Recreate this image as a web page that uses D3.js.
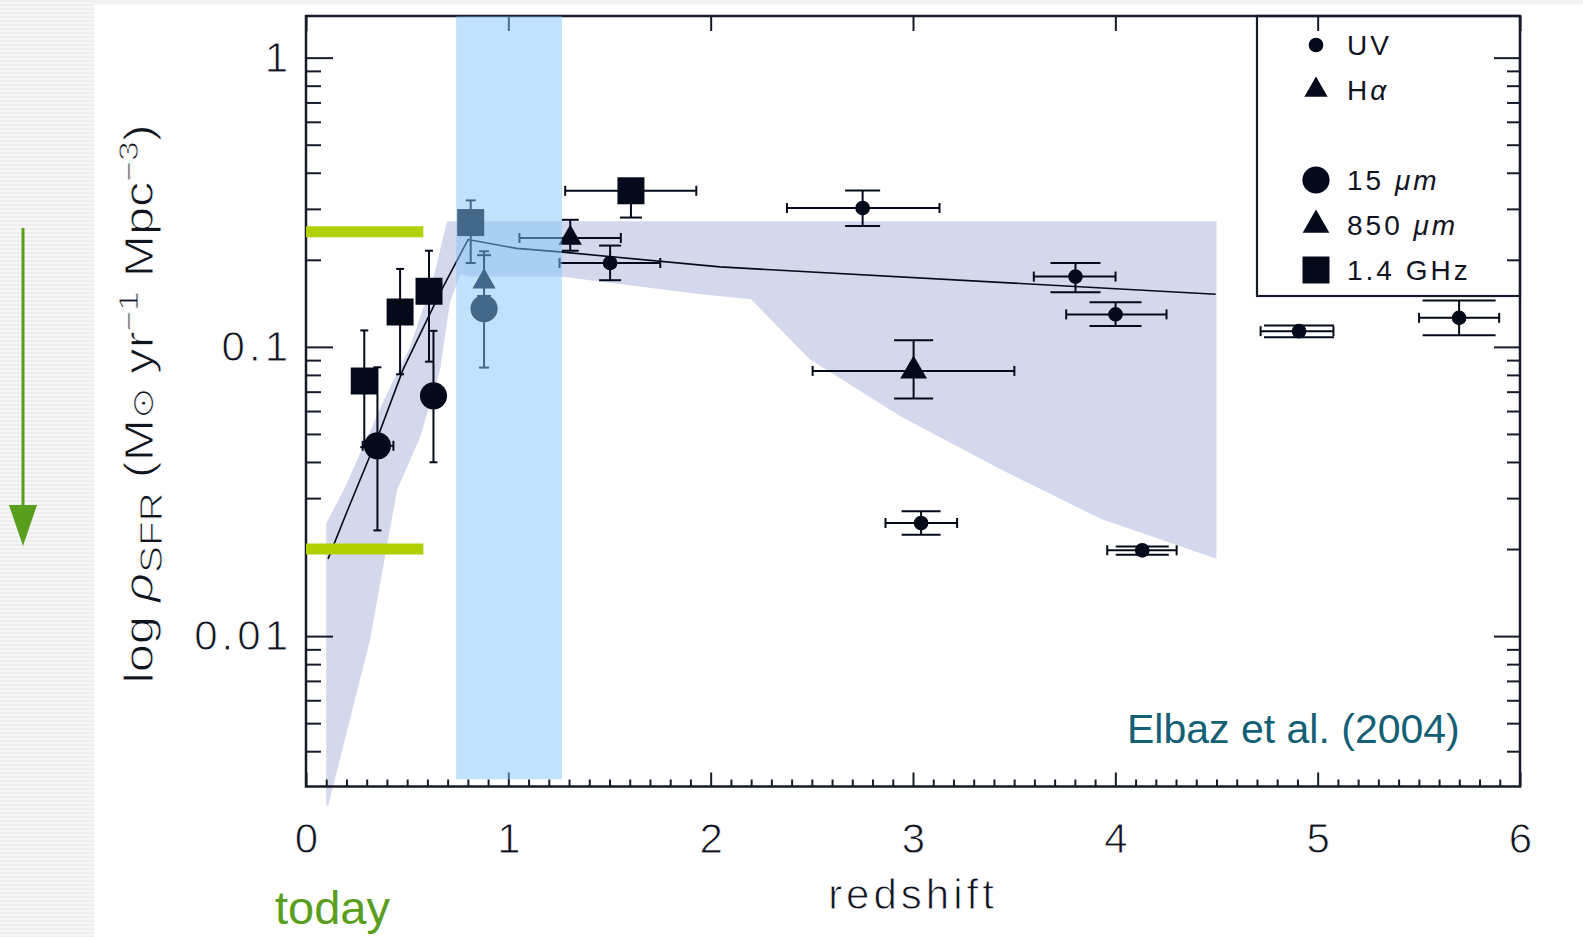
<!DOCTYPE html>
<html lang="en">
<head>
<meta charset="UTF-8" />
<title>Cosmic star formation history - Elbaz et al. (2004)</title>
<script src="https://d3js.org/d3.v7.min.js"></script>
<style>
  body { margin: 0; background: #fff; }
  svg { display: block; }
  .hershey {
    font-family: "Liberation Sans", Arial, sans-serif;
    fill: #10141f;
    stroke: #fff;
    stroke-width: 0.9px;
    paint-order: fill;
  }
  .legend-text {
    font-family: "Liberation Sans", Arial, sans-serif;
    fill: #10141f;
  }
  .tick line { stroke: #161b2a; stroke-width: 2px; }
</style>
</head>
<body>
<div id="chart"></div>
<script>
// Points: [z, rho, zLow, zHigh, rhoLow, rhoHigh]
const uvPoints = [
  [1.503, 0.195, 1.253, 1.751, 0.170, 0.224],
  [2.751, 0.302, 2.377, 3.131, 0.262, 0.347],
  [3.803, 0.175, 3.597, 4.001, 0.1545, 0.195],
  [4.001, 0.1295, 3.757, 4.253, 0.118, 0.1427],
  [3.040, 0.0246, 2.864, 3.218, 0.0224, 0.0270],
  [4.133, 0.0198, 3.960, 4.303, 0.0191, 0.0204],
  [4.908, 0.1133, 4.718, 5.078, 0.108, 0.1185],
  [5.699, 0.126, 5.501, 5.897, 0.1096, 0.1446]
];
const haPoints = [
  [1.306, 0.238, 1.055, 1.556, 0.215, 0.275],
  [0.880, 0.168, 0.880, 0.880, 0.150, 0.2075]
];
const ir15Points = [
  [0.353, 0.0455, 0.280, 0.432, 0.0232, 0.085],
  [0.630, 0.0677, 0.630, 0.630, 0.0399, 0.1136],
  [0.880, 0.1355, 0.880, 0.880, 0.0848, 0.214]
];
const smm850Points = [
  [3.003, 0.0826, 2.504, 3.501, 0.0663, 0.1055]
];
const radioPoints = [
  [0.288, 0.0762, 0.288, 0.288, 0.045, 0.114],
  [0.465, 0.132, 0.465, 0.465, 0.0804, 0.186],
  [0.608, 0.1557, 0.608, 0.608, 0.0889, 0.215],
  [0.814, 0.269, 0.814, 0.814, 0.195, 0.321],
  [1.606, 0.3465, 1.281, 1.929, 0.280, 0.3465]
];

// width of the horizontal caps on the rho error bars (px), same order as above
const capUV = [22, 35, 50, 52, 39, 53, 70, 73];
const capHa = [17, 14];
const capIr15 = [8, 8, 10];
const capSmm = [39];
const capRadio = [8, 8, 8, 10, 22];

// fitted line
const fitZ = [0.109, 0.208, 0.356, 0.480, 0.663, 0.801, 0.861, 1.041, 1.255, 2.046, 4.496];
const fitRho = [0.0185, 0.0275, 0.0491, 0.0836, 0.154, 0.235, 0.231, 0.219, 0.213, 0.189, 0.152];

// grey uncertainty region (outline, clockwise from the bottom tip)
const bandZ = [0.100, 0.100, 0.190, 0.380, 0.515, 0.628, 0.697, 4.500, 4.500, 3.930, 3.430, 2.940,
  2.490, 2.200, 1.950, 1.256, 0.811, 0.762, 0.711, 0.663, 0.564, 0.450, 0.316, 0.110];
const bandRho = [0.0026, 0.0245, 0.0324, 0.0643, 0.1005, 0.171, 0.272, 0.272, 0.0185, 0.0254, 0.0378, 0.0575,
  0.0906, 0.146, 0.152, 0.175, 0.175, 0.178, 0.142, 0.0836, 0.0487, 0.0320, 0.00968, 0.0026];

// highlighted redshift range and the two "today" levels
const zRange = [0.742, 1.265];
const zRangeRho = [0.0032, 1.39];
const todayZ = [0, 0.58];
const todayLevels = [0.25, 0.02];

const xTickLabels = [0, 1, 2, 3, 4, 5, 6];
const yTickLabels = [0.01, 0.1, 1];

const legendItems = [
  { label: "UV", sym: "uv" },
  { label: "H", italic: "α", sym: "ha" },
  { label: "", sym: null },
  { label: "15 ", italic: "μm", sym: "ir15" },
  { label: "850 ", italic: "μm", sym: "smm" },
  { label: "1.4 GHz", sym: "radio" }
];

// ---------------------------------------------------------------
const W = 1583, H = 937;
const ink = "#050a1a";

const svg = d3.select("#chart").append("svg")
  .attr("width", W).attr("height", H);

// page background: striped left margin, grey top line
const defs = svg.append("defs");
const pat = defs.append("pattern").attr("id", "stripes")
  .attr("width", 8).attr("height", 4).attr("patternUnits", "userSpaceOnUse");
pat.append("rect").attr("width", 8).attr("height", 4).attr("fill", "#f6f6f6");
pat.append("rect").attr("width", 8).attr("height", 2).attr("fill", "#eeeeee");

svg.append("rect").attr("x", 0).attr("y", 0).attr("width", 94).attr("height", H)
  .attr("fill", "url(#stripes)");
svg.append("rect").attr("x", 94).attr("y", 0).attr("width", W - 94).attr("height", 4.5)
  .attr("fill", "#f2f2f2");

const x = d3.scaleLinear().domain([0, 6]).range([306, 1520]);
const y = d3.scaleLog().domain([Math.pow(10, -2.52), Math.pow(10, 0.144)]).range([786.5, 16]);

// grey region
svg.append("path")
  .datum(d3.zip(bandZ, bandRho))
  .attr("d", d3.line().x(d => x(d[0])).y(d => y(d[1])).curve(d3.curveLinearClosed))
  .attr("fill", "#d3d8ec");

// fitted line
svg.append("path")
  .datum(d3.zip(fitZ, fitRho))
  .attr("d", d3.line().x(d => x(d[0])).y(d => y(d[1])))
  .attr("fill", "none").attr("stroke", ink).attr("stroke-width", 1.6);

// points with error bars
const symbols = {
  uv: d3.symbol(d3.symbolCircle, 170),
  ha: d3.symbol(d3.symbolTriangle, 235),
  ir15: d3.symbol(d3.symbolCircle, 580),
  smm: d3.symbol(d3.symbolTriangle, 310),
  radio: d3.symbol(d3.symbolSquare, 729)
};

function drawSeries(rows, caps, sym) {
  const g = svg.append("g").attr("stroke", ink).attr("stroke-width", 2).attr("fill", ink);
  rows.forEach((r, i) => {
    const [z, rho, zlo, zhi, rlo, rhi] = r;
    const cx = x(z), cy = y(rho);
    if (zhi > zlo) {
      g.append("line").attr("x1", x(zlo)).attr("x2", x(zhi)).attr("y1", cy).attr("y2", cy);
      [zlo, zhi].forEach(v => g.append("line")
        .attr("x1", x(v)).attr("x2", x(v)).attr("y1", cy - 5).attr("y2", cy + 5));
    }
    if (rhi > rlo) {
      g.append("line").attr("x1", cx).attr("x2", cx).attr("y1", y(rhi)).attr("y2", y(rlo));
      [rlo, rhi].filter(v => v !== rho).forEach(v => g.append("line")
        .attr("x1", cx - caps[i] / 2).attr("x2", cx + caps[i] / 2)
        .attr("y1", y(v)).attr("y2", y(v)));
    }
    g.append("path").attr("d", symbols[sym]()).attr("stroke", "none")
      .attr("transform", `translate(${cx},${cy})`);
  });
}

drawSeries(uvPoints, capUV, "uv");
drawSeries(haPoints, capHa, "ha");
drawSeries(ir15Points, capIr15, "ir15");
drawSeries(smm850Points, capSmm, "smm");
drawSeries(radioPoints, capRadio, "radio");

// ---- axes: ticks on all four sides, pointing inwards ----
const yMajor = yTickLabels;
const yMinor = y.ticks().filter(v => !yMajor.some(m => Math.abs(m - v) < 1e-9));
const xMinor = d3.range(1, 60).map(i => i / 10).filter(v => Math.abs(v - Math.round(v)) > 1e-6);

function ticks(axis, tx, ty) {
  svg.append("g").attr("transform", `translate(${tx},${ty})`)
    .call(axis.tickFormat(""))
    .call(g => g.select(".domain").remove());
}
ticks(d3.axisLeft(y).tickValues(yMajor).tickSize(-27), 306, 0);
ticks(d3.axisLeft(y).tickValues(yMinor).tickSize(-15), 306, 0);
ticks(d3.axisRight(y).tickValues(yMajor).tickSize(-26), 1520, 0);
ticks(d3.axisRight(y).tickValues(yMinor).tickSize(-13), 1520, 0);
ticks(d3.axisBottom(x).tickValues(xTickLabels).tickSize(-14), 0, 786.5);
ticks(d3.axisBottom(x).tickValues(xMinor).tickSize(-7), 0, 786.5);
ticks(d3.axisTop(x).tickValues(xTickLabels).tickSize(-15), 0, 16);

svg.append("rect")
  .attr("x", 306).attr("y", 16).attr("width", 1520 - 306).attr("height", 786.5 - 16)
  .attr("fill", "none").attr("stroke", "#161b2a").attr("stroke-width", 2.5);

// tick labels
const xl = svg.append("g").attr("transform", "translate(0,786.5)")
  .call(d3.axisBottom(x).tickValues(xTickLabels).tickSize(0).tickPadding(37).tickFormat(d => d));
xl.select(".domain").remove();
xl.selectAll("text").attr("class", "hershey").attr("fill", null)
  .style("font-size", "42px").style("font-family", null);

const yl = svg.append("g").attr("transform", "translate(306,0)")
  .call(d3.axisLeft(y).tickValues(yTickLabels).tickSize(0).tickPadding(14).tickFormat(d => String(d)));
yl.select(".domain").remove();
yl.selectAll("text").attr("class", "hershey").attr("fill", null)
  .style("font-size", "42px").style("letter-spacing", "4px").style("font-family", null);

// axis titles
svg.append("text").attr("class", "hershey")
  .attr("x", x(3)).attr("y", 909).attr("text-anchor", "middle")
  .style("font-size", "42px").style("letter-spacing", "4px")
  .text("redshift");

const yt = svg.append("text").attr("class", "hershey")
  .attr("transform", "translate(153,404) rotate(-90)")
  .attr("text-anchor", "middle")
  .attr("textLength", 559).attr("lengthAdjust", "spacingAndGlyphs")
  .style("font-size", "40px");
yt.append("tspan").text("log ");
yt.append("tspan").style("font-style", "italic").text("ρ");
yt.append("tspan").attr("dy", 9).style("font-size", "32px").text("SFR");
yt.append("tspan").attr("dy", -9).text(" (M");
yt.append("tspan").style("font-size", "30px").text("⊙");
yt.append("tspan").text(" yr");
yt.append("tspan").attr("dy", -15).style("font-size", "28px").text("−1");
yt.append("tspan").attr("dy", 15).text(" Mpc");
yt.append("tspan").attr("dy", -15).style("font-size", "28px").text("−3");
yt.append("tspan").attr("dy", 15).text(")");

// legend
const legend = svg.append("g");
legend.append("rect")
  .attr("x", 1257).attr("y", 16).attr("width", 1520 - 1257).attr("height", 296 - 16)
  .attr("fill", "none").attr("stroke", "#161b2a").attr("stroke-width", 2.2);
const legendY = d3.scalePoint().domain(d3.range(legendItems.length)).range([45, 270]);
legendItems.forEach((it, i) => {
  if (!it.sym) return;
  const ly = legendY(i);
  legend.append("path").attr("d", symbols[it.sym]()).attr("fill", ink)
    .attr("transform", `translate(1316,${ly})`);
  const t = legend.append("text").attr("class", "legend-text")
    .attr("x", 1347).attr("y", ly + 10)
    .style("font-size", "28px").style("letter-spacing", "3px");
  t.append("tspan").text(it.label);
  if (it.italic) t.append("tspan").style("font-style", "italic").text(it.italic);
});

// highlighted redshift range (drawn over everything beneath it)
svg.append("rect")
  .attr("x", x(zRange[0])).attr("width", x(zRange[1]) - x(zRange[0]))
  .attr("y", y(zRangeRho[1])).attr("height", y(zRangeRho[0]) - y(zRangeRho[1]))
  .attr("fill", "rgb(129,197,249)").attr("fill-opacity", 0.5);

// "today" levels
svg.selectAll(".today-bar").data(todayLevels).join("line")
  .attr("class", "today-bar")
  .attr("x1", x(todayZ[0])).attr("x2", x(todayZ[1]))
  .attr("y1", d => y(d)).attr("y2", d => y(d))
  .attr("stroke", "#b0d000").attr("stroke-width", 11);

// annotations
svg.append("text")
  .attr("x", 275).attr("y", 924)
  .style("font-family", "'Liberation Sans', Arial, sans-serif").style("font-size", "47px")
  .attr("fill", "#5a9e1e")
  .text("today");

svg.append("text")
  .attr("x", 1127).attr("y", 743)
  .style("font-family", "'Liberation Sans', Arial, sans-serif").style("font-size", "41px")
  .attr("fill", "#135f75")
  .text("Elbaz et al. (2004)");

// green arrow in the margin
svg.append("line")
  .attr("x1", 23).attr("x2", 23).attr("y1", 228).attr("y2", 510)
  .attr("stroke", "#5a9e1e").attr("stroke-width", 3);
svg.append("path")
  .attr("d", "M9,505 L37,505 L23,546 Z")
  .attr("fill", "#5a9e1e");
</script>
</body>
</html>
